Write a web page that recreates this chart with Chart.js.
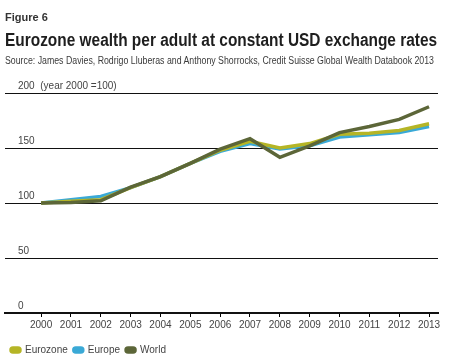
<!DOCTYPE html>
<html lang="en">
<head>
    <meta charset="UTF-8">
    <title>Eurozone wealth per adult</title>
    <script src="https://cdn.jsdelivr.net/npm/chart.js"></script>
    <style>
        body { margin: 0; background: #fff; font-family: "Liberation Sans", Arial, sans-serif; }
        .wrap { position: relative; width: 457px; height: 359px; overflow: hidden; }
        .fig { position: absolute; left: 5px; top: 11px; font-size: 11px; font-weight: bold; color: #333; }
        .title { position: absolute; left: 5px; top: 30px; font-size: 18px; font-weight: bold; color: #1e1e1e; white-space: nowrap; transform-origin: 0 0; }
        .source { position: absolute; left: 5px; top: 55px; font-size: 10px; color: #3a3a3a; white-space: nowrap; transform-origin: 0 0; }
        canvas { position: absolute; left: 0; top: 0; }
    </style>
</head>
<body>
<div class="wrap">
    <canvas id="chart" width="457" height="359"></canvas>
    <div class="fig">Figure 6</div>
    <div class="title" id="title">Eurozone wealth per adult at constant USD exchange rates</div>
    <div class="source" id="source">Source: James Davies, Rodrigo Lluberas and Anthony Shorrocks, Credit Suisse Global Wealth Databook 2013</div>
</div>
<script>
    const years = [2000, 2001, 2002, 2003, 2004, 2005, 2006, 2007, 2008, 2009, 2010, 2011, 2012, 2013];
    const eurozone = [100, 101.5, 103, 114, 124, 136, 148, 156, 150, 154, 162.5, 163.5, 166, 172];
    const europe = [100, 103, 106, 114, 124, 136, 147, 154, 149, 152, 160, 162, 164, 169.5];
    const world = [100, 100.5, 102, 114.5, 124, 136, 149, 158.5, 141.5, 152, 164, 169.5, 176, 187.5];
    const yTicks = [0, 50, 100, 150, 200];

    // squeeze header text to the reference widths
    function fitWidth(id, w) {
        const el = document.getElementById(id);
        el.style.transform = 'scaleX(' + (w / el.offsetWidth) + ')';
    }
    fitWidth('title', 432);
    fitWidth('source', 429);

    const pts = arr => arr.map((v, i) => ({ x: years[i], y: v }));

    const ctx = document.getElementById('chart').getContext('2d');
    new Chart(ctx, {
        type: 'line',
        data: {
            datasets: [
                { label: 'Eurozone', data: pts(eurozone), borderColor: '#b5b526', backgroundColor: '#b5b526', order: 1 },
                { label: 'Europe', data: pts(europe), borderColor: '#3aa9d6', backgroundColor: '#3aa9d6', order: 2 },
                { label: 'World', data: pts(world), borderColor: '#5c6638', backgroundColor: '#5c6638', order: 0 }
            ]
        },
        options: {
            responsive: false,
            animation: false,
            elements: {
                line: { borderWidth: 3.5, tension: 0 },
                point: { radius: 0 }
            },
            layout: { padding: { top: 93, left: 5, right: 19, bottom: -6 } },
            scales: {
                x: {
                    type: 'linear',
                    min: 1998.79,
                    max: 2013.3,
                    afterBuildTicks: scale => { scale.ticks = years.map(v => ({ value: v })); },
                    afterFit: scale => { scale.height += 6; },
                    grid: { drawOnChartArea: false, drawTicks: true, tickLength: 4, color: '#000', lineWidth: 1 },
                    border: { display: true, color: '#111', width: 2 },
                    ticks: { color: '#444', font: { size: 10, family: 'Liberation Sans' }, padding: 2, maxRotation: 0, autoSkip: false,
                        callback: v => String(v) }
                },
                y: {
                    min: 0,
                    max: 200,
                    afterBuildTicks: scale => { scale.ticks = yTicks.map(v => ({ value: v })); },
                    afterFit: scale => { scale.width = 0; },
                    grid: { color: '#111', lineWidth: 1, drawTicks: false },
                    border: { display: false },
                    ticks: {
                        mirror: true,
                        padding: 13,
                        labelOffset: -7,
                        color: '#444',
                        font: { size: 10, family: 'Liberation Sans' },
                        callback: v => v === 200 ? '200  (year 2000 =100)' : String(v)
                    }
                }
            },
            plugins: {
                tooltip: { enabled: false },
                legend: {
                    position: 'bottom',
                    align: 'start',
                    labels: {
                        boxWidth: 9,
                        boxHeight: 4,
                        useBorderRadius: true,
                        borderRadius: 2,
                        color: '#444',
                        padding: 6,
                        font: { size: 10, family: 'Liberation Sans' },
                        sort: (a, b) => a.datasetIndex - b.datasetIndex
                    }
                }
            }
        }
    });
</script>
</body>
</html>
